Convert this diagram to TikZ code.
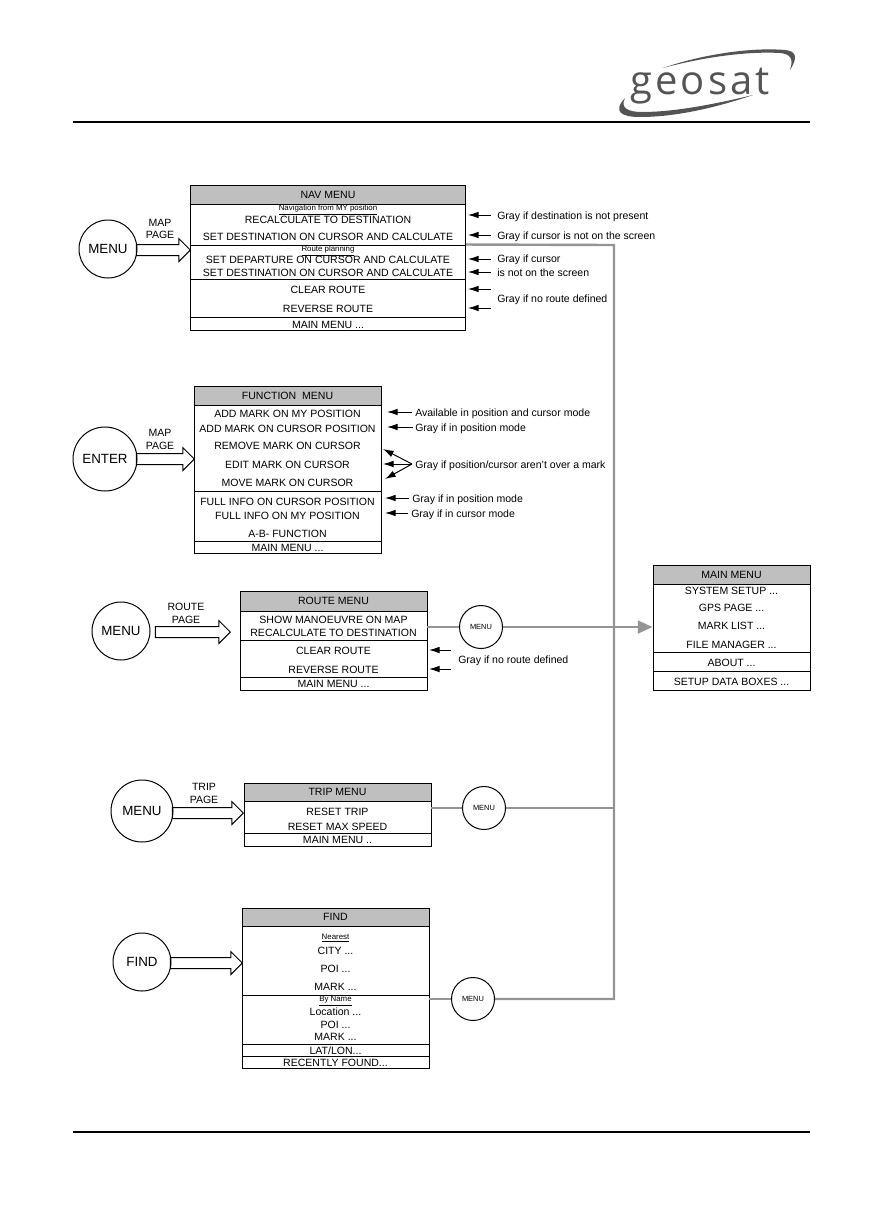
\documentclass[tikz,border=0pt]{standalone}
\usepackage{fontspec}
\setmainfont{Liberation Sans}
\newfontfamily\logofont[LetterSpace=8]{Open Sans}
\usetikzlibrary{arrows.meta,shapes.arrows}
\def\px{0.75pt}
\def\ddd{...}
\def\latlon{LAT/LON...}
\definecolor{titlegray}{gray}{0.75}
\definecolor{busgray}{gray}{0.58}
\definecolor{logogray}{gray}{0.33}
\tikzset{
  menusec/.style={draw,line width=0.95*\px,inner sep=0pt},
  menutitle/.style={menusec,fill=titlegray,font=\fontsize{7.9pt}{8pt}\selectfont},
  menuitem/.style={inner sep=0pt,yshift=-0.75*\px,font=\fontsize{7.9pt}{8pt}\selectfont},
  smallitem/.style={inner sep=0pt,font=\fontsize{5.9pt}{6pt}\selectfont},
  bigkey/.style={circle,draw,line width=\px,inner sep=0pt,minimum size=58*\px,font=\fontsize{10pt}{11pt}\selectfont},
  smallkey/.style={circle,draw,line width=\px,fill=white,inner sep=0pt,minimum size=43*\px,font=\fontsize{5.6pt}{6pt}\selectfont},
  pagearrow/.style={single arrow,draw,line width=\px,inner sep=5*\px,anchor=tip,
    single arrow head extend=6*\px,single arrow tip angle=90},
  pagelabel/.style={inner sep=0pt,align=center,font=\fontsize{7.9pt}{9.6pt}\selectfont},
  note/.style={anchor=west,inner sep=0pt,yshift=-1.5*\px,font=\fontsize{7.9pt}{8pt}\selectfont},
  notearrow/.style={-{Latex[length=8pt,width=5pt]},line width=\px},
  busline/.style={draw=busgray,line width=2.4*\px},
}
\begin{document}
\begin{tikzpicture}[x=\px,y=-\px]
  \useasboundingbox (0,0) rectangle (885,1225);
  % page rules
  \coordinate (ruleAl) at (73,122);
  \coordinate (ruleAr) at (810,122);
  \coordinate (ruleBl) at (73,1132);
  \coordinate (ruleBr) at (810,1132);
  \draw[line width=1.6*\px] (ruleAl) -- (ruleAr);
  \draw[line width=1.6*\px] (ruleBl) -- (ruleBr);
  % logo
  \node[inner sep=0pt,anchor=base,text=logogray,font=\fontsize{30pt}{31pt}\logofont] (logo) at (700,94) {geosat};
  \fill[logogray] (663,68) .. controls (700,55) and (750,47) .. (785,50)
    .. controls (795,51) and (799,56) .. (790,70)
    .. controls (794,58) and (790,54) .. (780,53)
    .. controls (745,51) and (700,58) .. (663,68) -- cycle;
  \fill[logogray] (753,95) .. controls (715,108) and (675,117) .. (640,117)
    .. controls (622,117) and (612,112) .. (625,98)
    .. controls (620,108) and (628,112) .. (642,112)
    .. controls (675,112) and (715,104) .. (753,95) -- cycle;
  % nav menu
  \node[menutitle,minimum width=275*\px,minimum height=19*\px] (navt) at (328,194.5) {NAV MENU};
  \foreach \n/\y/\h in {1/224.5/41,2/262/34,3/298/38,4/323.5/13}
    \node[menusec,minimum width=275*\px,minimum height=\h*\px] (navb\n) at (328,\y) {};
  \node[smallitem] (navs1) at (328,210) {\underline{Navigation from MY position}};
  \node[smallitem] (navs2) at (328,251) {\underline{Route planning}};
  \foreach \n/\y/\t in {1/219/RECALCULATE TO DESTINATION,2/236/SET DESTINATION ON CURSOR AND CALCULATE,
    3/259/SET DEPARTURE ON CURSOR AND CALCULATE,4/272/SET DESTINATION ON CURSOR AND CALCULATE,
    5/289/CLEAR ROUTE,6/308/REVERSE ROUTE,7/324/MAIN MENU \ddd}
    \node[menuitem] (navi\n) at (328,\y) {\t};
  \node[bigkey] (navkey) at (108,249) {MENU};
  \node[pagearrow,minimum height=54*\px] (navarrow) at (191,250) {};
  \node[pagelabel] (navpage) at (160,229) {MAP\\PAGE};
  \foreach \n/\y/\t in {1/215/Gray if destination is not present,2/235/Gray if cursor is not on the screen,
    3/258/Gray if cursor,4/271/is not on the screen,5/298/Gray if no route defined}
    \node[note] (navn\n) at (497,\y) {\t};
  \foreach \n/\y in {1/215,2/235,3/259,4/272,5/289,6/308} {
    \coordinate (navf\n) at (491,\y);
    \coordinate (nave\n) at (468,\y);
    \draw[notearrow] (navf\n) -- (nave\n);
  }
  % function menu
  \node[menutitle,minimum width=187*\px,minimum height=19*\px] (funt) at (287.5,395.5) {FUNCTION~~MENU};
  \foreach \n/\y/\h in {1/448/86,2/516/50,3/547/12}
    \node[menusec,minimum width=187*\px,minimum height=\h*\px] (funb\n) at (287.5,\y) {};
  \foreach \n/\y/\t in {1/413/ADD MARK ON MY POSITION,2/428/ADD MARK ON CURSOR POSITION,3/445/REMOVE MARK ON CURSOR,
    4/464/EDIT MARK ON CURSOR,5/482/MOVE MARK ON CURSOR,6/501/FULL INFO ON CURSOR POSITION,
    7/515/FULL INFO ON MY POSITION,8/533/A-B- FUNCTION,9/547/MAIN MENU \ddd}
    \node[menuitem] (funi\n) at (287.5,\y) {\t};
  \node[bigkey,minimum size=64*\px] (funkey) at (105,459) {ENTER};
  \node[pagearrow,minimum height=58*\px] (funarrow) at (195,459) {};
  \node[pagelabel] (funpage) at (160,439.5) {MAP\\PAGE};
  \node[note] (funn1) at (415,412) {Available in position and cursor mode};
  \node[note] (funn2) at (415,427) {Gray if in position mode};
  \node[note] (funn3) at (415,464) {Gray if position/cursor aren't over a mark};
  \node[note] (funn4) at (412,498) {Gray if in position mode};
  \node[note] (funn5) at (411,513) {Gray if in cursor mode};
  \foreach \n/\x/\y/\e in {1/412/412/387,2/413/427/387,4/409/498/385,5/408/513/385} {
    \coordinate (funf\n) at (\x,\y);
    \coordinate (fune\n) at (\e,\y);
    \draw[notearrow] (funf\n) -- (fune\n);
  }
  \coordinate (funfan) at (412,464);
  \foreach \n/\x/\y in {a/383/449,b/383/464,c/385/479} {
    \coordinate (fune\n) at (\x,\y);
    \draw[notearrow] (funfan) -- (fune\n);
  }
  % route menu
  \node[menutitle,minimum width=187*\px,minimum height=20*\px] (rout) at (333.5,601) {ROUTE MENU};
  \foreach \n/\y/\h in {1/625.5/29,2/658.5/37,3/683.5/13}
    \node[menusec,minimum width=187*\px,minimum height=\h*\px] (roub\n) at (333.5,\y) {};
  \foreach \n/\y/\t in {1/619/SHOW MANOEUVRE ON MAP,2/632/RECALCULATE TO DESTINATION,3/650/CLEAR ROUTE,
    4/669/REVERSE ROUTE,5/683/MAIN MENU \ddd}
    \node[menuitem] (roui\n) at (333.5,\y) {\t};
  \node[bigkey] (roukey) at (121,631) {MENU};
  \node[pagearrow,minimum height=75*\px] (rouarrow) at (231,632) {};
  \node[pagelabel] (roupage) at (186,613) {ROUTE\\PAGE};
  \node[note] (roun1) at (458,659) {Gray if no route defined};
  \foreach \n/\y in {1/650,2/669} {
    \coordinate (rouf\n) at (451,\y);
    \coordinate (roue\n) at (429,\y);
    \draw[notearrow] (rouf\n) -- (roue\n);
  }
  % trip menu
  \node[menutitle,minimum width=187*\px,minimum height=18*\px] (trit) at (337.5,792) {TRIP MENU};
  \foreach \n/\y/\h in {1/817/32,2/839.5/13}
    \node[menusec,minimum width=187*\px,minimum height=\h*\px] (trib\n) at (337.5,\y) {};
  \foreach \n/\y/\t in {1/811/RESET TRIP,2/826/RESET MAX SPEED,3/839/MAIN MENU ..}
    \node[menuitem] (trii\n) at (337.5,\y) {\t};
  \node[bigkey,minimum size=62*\px] (trikey) at (142,811) {MENU};
  \node[pagearrow,minimum height=71*\px] (triarrow) at (244,813) {};
  \node[pagelabel] (tripage) at (204,793.5) {TRIP\\PAGE};
  % find menu
  \node[menutitle,minimum width=187*\px,minimum height=18*\px] (fint) at (335.5,917) {FIND};
  \foreach \n/\y/\h in {1/960.5/69,2/1019.5/49,3/1050/12,4/1062/12}
    \node[menusec,minimum width=187*\px,minimum height=\h*\px] (finb\n) at (335.5,\y) {};
  \node[smallitem] (fins1) at (335.5,938) {\underline{Nearest}};
  \node[smallitem] (fins2) at (335.5,1001) {\underline{By Name}};
  \foreach \n/\y/\t in {1/950/CITY \ddd,2/968/POI \ddd,3/986/MARK \ddd,4/1011/Location \ddd,5/1024/POI \ddd,
    6/1036/MARK \ddd,7/1050/\latlon,8/1062/RECENTLY FOUND\ddd}
    \node[menuitem] (fini\n) at (335.5,\y) {\t};
  \node[bigkey] (finkey) at (142,962) {FIND};
  \node[pagearrow,minimum height=72*\px] (finarrow) at (243,963) {};
  % main menu
  \node[menutitle,minimum width=157*\px,minimum height=19*\px] (mait) at (731.5,574.5) {MAIN MENU};
  \foreach \n/\y/\h in {1/618/68,2/661.5/19,3/680.5/19}
    \node[menusec,minimum width=157*\px,minimum height=\h*\px] (maib\n) at (731.5,\y) {};
  \foreach \n/\y/\t in {1/590/SYSTEM SETUP \ddd,2/607/GPS PAGE \ddd,3/625/MARK LIST \ddd,4/644/FILE MANAGER \ddd,
    5/662/ABOUT \ddd,6/681/SETUP DATA BOXES \ddd}
    \node[menuitem] (maii\n) at (731.5,\y) {\t};
  % gray bus into main menu
  \node[smallkey] (roumenu) at (481,627) {MENU};
  \node[smallkey] (trimenu) at (484,808) {MENU};
  \node[smallkey] (finmenu) at (473,999) {MENU};
  \coordinate (bustop) at (614,245);
  \draw[busline] (navb2.north east) -- (bustop) -- (bustop |- finmenu.east) -- (finmenu.east);
  \draw[busline] (finmenu.west) -- (finmenu.west -| finb2.east);
  \draw[busline] (trib1.east |- trimenu.west) -- (trimenu.west);
  \draw[busline] (trimenu.east) -- (trimenu.east -| bustop);
  \draw[busline] (roub1.east |- roumenu.west) -- (roumenu.west);
  \draw[busline,-{Triangle[length=11pt,width=9.5pt]}] (roumenu.east) -- (roumenu.east -| maib1.west);
\end{tikzpicture}
\end{document}
